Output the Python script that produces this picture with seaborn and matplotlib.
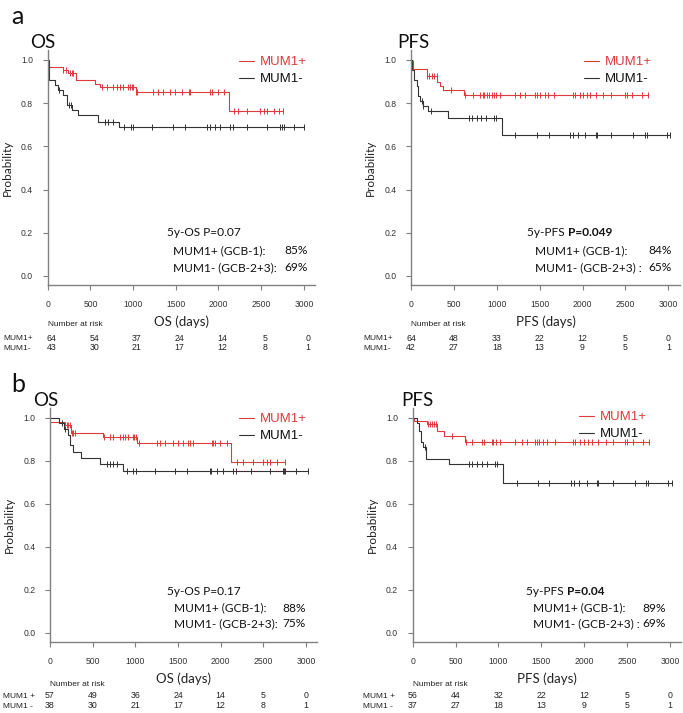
import numpy as np
import matplotlib
matplotlib.use("Agg")
import matplotlib.pyplot as plt
from matplotlib.lines import Line2D
import seaborn as sns

# ---------------- data ----------------
groups = ["MUM1+", "MUM1-"]
risk_times = [0, 500, 1000, 1500, 2000, 2500, 3000]

# (a) OS
a_os_pos_t = [0, 7, 176, 240, 330, 550, 610, 1030, 2120]
a_os_pos_s = [1.0, 0.969, 0.953, 0.938, 0.906, 0.890, 0.874, 0.852, 0.765]
a_os_pos_c = [184, 211, 262, 281, 301, 633, 691, 770, 816, 848, 879, 945, 965, 984,
              1004, 1035, 1043, 1238, 1297, 1355, 1434, 1492, 1570, 1660, 1668, 1902,
              1922, 2000, 2059, 2176, 2234, 2332, 2488, 2527, 2566, 2645, 2703, 2754]
a_os_neg_t = [0, 16, 86, 125, 184, 223, 281, 359, 586, 840]
a_os_neg_s = [1.0, 0.907, 0.884, 0.860, 0.837, 0.791, 0.767, 0.744, 0.714, 0.690]
a_os_neg_c = [137, 254, 270, 672, 711, 770, 895, 973, 996, 1219, 1465, 1609, 1871,
              1895, 1961, 2020, 2137, 2168, 2332, 2566, 2723, 2742, 2762, 2879, 2996]
a_os_risk_pos = [64, 54, 37, 24, 14, 5, 0]
a_os_risk_neg = [43, 30, 21, 17, 12, 8, 1]

# (a) PFS
a_pfs_pos_t = [0, 8, 20, 190, 300, 338, 375, 618]
a_pfs_pos_s = [1.0, 0.984, 0.960, 0.925, 0.900, 0.878, 0.860, 0.839]
a_pfs_pos_c = [19, 190, 214, 241, 268, 299, 466, 630, 727, 805, 836, 851, 882, 909,
               941, 968, 991, 1038, 1213, 1271, 1329, 1446, 1465, 1504, 1562, 1601,
               1667, 1893, 1912, 1970, 2009, 2048, 2087, 2157, 2242, 2328, 2495, 2522,
               2573, 2689, 2767]
a_pfs_neg_t = [0, 8, 35, 65, 86, 105, 135, 202, 427, 1065]
a_pfs_neg_s = [1.0, 0.952, 0.905, 0.880, 0.833, 0.810, 0.786, 0.762, 0.730, 0.653]
a_pfs_neg_c = [124, 145, 229, 680, 707, 766, 812, 871, 968, 987, 1213, 1473, 1605,
               1854, 1893, 1951, 2029, 2157, 2165, 2328, 2592, 2728, 2748, 2981, 3020]
a_pfs_risk_pos = [64, 48, 33, 22, 12, 5, 0]
a_pfs_risk_neg = [42, 27, 18, 13, 9, 5, 1]

# (b) OS
b_os_pos_t = [0, 5, 176, 242, 625, 1015, 2117]
b_os_pos_s = [1.0, 0.982, 0.965, 0.930, 0.912, 0.885, 0.795]
b_os_pos_c = [195, 215, 234, 254, 273, 293, 633, 703, 742, 820, 852, 879, 918, 969,
              984, 1008, 1047, 1250, 1289, 1348, 1445, 1504, 1563, 1613, 1641, 1680,
              1895, 1914, 1934, 1992, 2070, 2188, 2266, 2383, 2500, 2539, 2578, 2656, 2754]
b_os_neg_t = [0, 109, 160, 207, 234, 273, 363, 586, 852]
b_os_neg_s = [1.0, 0.974, 0.948, 0.920, 0.875, 0.840, 0.812, 0.785, 0.755]
b_os_neg_c = [137, 176, 672, 703, 742, 781, 906, 977, 1008, 1230, 1465, 1609, 1875,
              1887, 1953, 2023, 2148, 2180, 2352, 2578, 2727, 2742, 2754, 2883, 3027]
b_os_risk_pos = [57, 49, 36, 24, 14, 5, 0]
b_os_risk_neg = [38, 30, 21, 17, 12, 8, 1]

# (b) PFS
b_pfs_pos_t = [0, 15, 171, 280, 365, 610]
b_pfs_pos_s = [1.0, 0.985, 0.970, 0.940, 0.915, 0.888]
b_pfs_pos_c = [183, 202, 222, 249, 272, 455, 622, 688, 805, 832, 921, 941, 972, 1018,
               1193, 1271, 1329, 1426, 1454, 1477, 1524, 1563, 1660, 1873, 1893, 1951,
               1998, 2048, 2087, 2165, 2254, 2332, 2476, 2495, 2573, 2689, 2759]
b_pfs_neg_t = [0, 47, 74, 93, 124, 155, 428, 1057]
b_pfs_neg_s = [1.0, 0.977, 0.940, 0.890, 0.865, 0.810, 0.785, 0.695]
b_pfs_neg_c = [144, 661, 688, 754, 805, 863, 960, 979, 1213, 1465, 1593, 1846, 1885,
               1943, 2029, 2153, 2165, 2332, 2592, 2720, 2748, 2981, 3020]
b_pfs_risk_pos = [56, 44, 32, 22, 12, 5, 0]
b_pfs_risk_neg = [37, 27, 18, 13, 9, 5, 1]

# ---------------- style ----------------
W, H = 683, 713
RED = "#e03a3c"
BLACK = "#333333"
GREY = "#808080"
TXT = "Lato"
ARIAL = "Liberation Sans"
ANN = 8.6

sns.set_style("ticks")
plt.rcParams["font.family"] = [ARIAL, "DejaVu Sans"]

fig = plt.figure(figsize=(W / 100, H / 100), dpi=100)


def fx(x):
    return x / W


def fy(y):
    return 1 - y / H


def km_curve(ax, times, surv, cens, color):
    times = np.asarray(times, float)
    surv = np.asarray(surv, float)
    cens = np.asarray(cens, float)
    t_end = max(times.max(), cens.max())
    x = np.append(times, t_end)
    y = np.append(surv, surv[-1])
    sns.lineplot(x=x, y=y, drawstyle="steps-post", color=color, lw=0.8,
                 estimator=None, sort=False, ax=ax)
    idx = np.searchsorted(times, cens, side="right") - 1
    ax.plot(cens, surv[idx], ls="none", marker="|", ms=4.5, mew=0.7, color=color)


panels = [
    dict(rect=(47.7, 50, 315, 285), xmax=3130, title="OS", title_xy=(30, 43),
         letter="a", letter_xy=(11, 17),
         pos=(a_os_pos_t, a_os_pos_s, a_os_pos_c), neg=(a_os_neg_t, a_os_neg_s, a_os_neg_c),
         risk=(a_os_risk_pos, a_os_risk_neg), risk_y=(325, 338, 348), risk_lbl_x=3,
         risk_off=45, row_names=groups, xlabel="OS (days)", leg_xy=(239, 56),
         head=("5y-OS P=0.07", ""), head_x=1398, lbl_x=1468, pct_x=3040,
         ys=(0.199, 0.116, 0.037), lbls=("MUM1+ (GCB-1):", "MUM1- (GCB-2+3):"),
         pcts=("85%", "69%")),
    dict(rect=(411, 50, 680, 285), xmax=3136, title="PFS", title_xy=(397, 43),
         letter=None, letter_xy=None,
         pos=(a_pfs_pos_t, a_pfs_pos_s, a_pfs_pos_c), neg=(a_pfs_neg_t, a_pfs_neg_s, a_pfs_neg_c),
         risk=(a_pfs_risk_pos, a_pfs_risk_neg), risk_y=(325, 338, 348), risk_lbl_x=363,
         risk_off=0, row_names=groups, xlabel="PFS (days)", leg_xy=(584, 56),
         head=("5y-PFS ", "P=0.049"), head_x=1353, lbl_x=1446, pct_x=3043,
         ys=(0.199, 0.116, 0.037), lbls=("MUM1+ (GCB-1):", "MUM1- (GCB-2+3) :"),
         pcts=("84%", "65%")),
    dict(rect=(50, 408, 317, 642), xmax=3129, title="OS", title_xy=(33, 401),
         letter="b", letter_xy=(11, 384),
         pos=(b_os_pos_t, b_os_pos_s, b_os_pos_c), neg=(b_os_neg_t, b_os_neg_s, b_os_neg_c),
         risk=(b_os_risk_pos, b_os_risk_neg), risk_y=(684, 696, 706), risk_lbl_x=3,
         risk_off=0, row_names=["MUM1 +", "MUM1 -"], xlabel="OS (days)", leg_xy=(239, 413),
         head=("5y-OS P=0.17", ""), head_x=1371, lbl_x=1453, pct_x=3000,
         ys=(0.195, 0.116, 0.042), lbls=("MUM1+ (GCB-1):", "MUM1- (GCB-2+3):"),
         pcts=("88%", "75%")),
    dict(rect=(412.7, 408, 681, 642), xmax=3128, title="PFS", title_xy=(401, 401),
         letter=None, letter_xy=None,
         pos=(b_pfs_pos_t, b_pfs_pos_s, b_pfs_pos_c), neg=(b_pfs_neg_t, b_pfs_neg_s, b_pfs_neg_c),
         risk=(b_pfs_risk_pos, b_pfs_risk_neg), risk_y=(684, 696, 706), risk_lbl_x=363,
         risk_off=0, row_names=["MUM1 +", "MUM1 -"], xlabel="PFS (days)", leg_xy=(579, 411),
         head=("5y-PFS ", "P=0.04"), head_x=1320, lbl_x=1402, pct_x=2952,
         ys=(0.195, 0.116, 0.042), lbls=("MUM1+ (GCB-1):", "MUM1- (GCB-2+3) :"),
         pcts=("89%", "69%")),
]

for p in panels:
    l, t, r, b = p["rect"]
    ax = fig.add_axes([fx(l), fy(b), fx(r - l), (b - t) / H])

    km_curve(ax, *p["pos"], RED)
    km_curve(ax, *p["neg"], BLACK)

    ax.set_xlim(0, p["xmax"])
    ax.set_ylim(-0.042, 1.046)
    ax.set_xticks(risk_times)
    ax.set_yticks(np.arange(0, 1.01, 0.2))
    ax.set_yticklabels([f"{v:.1f}" for v in np.arange(0, 1.01, 0.2)])
    sns.despine(ax=ax)
    for s in ("left", "bottom"):
        ax.spines[s].set_color(GREY)
        ax.spines[s].set_linewidth(1.0)
    ax.tick_params(axis="both", length=3.5, width=0.8, color=GREY,
                   labelsize=6.2, labelcolor="#333333")
    ax.tick_params(axis="x", pad=7)
    ax.tick_params(axis="y", pad=7)
    ax.set_xlabel(p["xlabel"], fontfamily=TXT, fontsize=9.5, labelpad=5, color="#222222")
    ax.set_ylabel("Probability", fontfamily=TXT, fontsize=8.5, labelpad=6, color="#222222")

    # legend
    handles = [Line2D([], [], color=RED, lw=0.8), Line2D([], [], color=BLACK, lw=0.8)]
    ax.legend(handles, groups, loc="upper left", frameon=False, fontsize=9.5,
              labelcolor=[RED, "#111111"], handlelength=1.15, handletextpad=0.45,
              labelspacing=0.37, borderpad=0, borderaxespad=0,
              bbox_to_anchor=(fx(p["leg_xy"][0]), fy(p["leg_xy"][1])),
              bbox_transform=fig.transFigure)

    # 5-year summary text
    y0, y1, y2 = p["ys"]
    t1 = ax.text(p["head_x"], y0, p["head"][0], fontfamily=TXT, fontsize=ANN,
                 va="center", ha="left", color="#111111")
    if p["head"][1]:
        ax.annotate(p["head"][1], xy=(1, 0.5), xycoords=t1, va="center", ha="left",
                    fontfamily=TXT, fontsize=ANN, fontweight="bold", color="#111111")
    for yy, lbl, pct in zip((y1, y2), p["lbls"], p["pcts"]):
        ax.text(p["lbl_x"], yy, lbl, fontfamily=TXT, fontsize=ANN, va="center",
                ha="left", color="#111111")
        ax.text(p["pct_x"], yy, pct, fontfamily=TXT, fontsize=ANN, va="center",
                ha="right", color="#111111")

    # number at risk table
    hy, ry1, ry2 = p["risk_y"]
    ax.annotate("Number at risk", xy=(0, fy(hy)), xycoords=("data", "figure fraction"),
                ha="left", va="center", fontsize=6, color="#222222", annotation_clip=False)
    for ry, name, counts in zip((ry1, ry2), p["row_names"], p["risk"]):
        fig.text(fx(p["risk_lbl_x"]), fy(ry), name, ha="left", va="center",
                 fontsize=6, color="#222222")
        for tt, n in zip(risk_times, counts):
            ax.annotate(str(n), xy=(tt + p["risk_off"], fy(ry)),
                        xycoords=("data", "figure fraction"), ha="center", va="center",
                        fontsize=6.3, color="#222222", annotation_clip=False)

    # panel titles
    fig.text(fx(p["title_xy"][0]), fy(p["title_xy"][1]), p["title"], fontfamily=TXT,
             fontsize=13.5, ha="left", va="center", color="#111111")
    if p["letter"]:
        fig.text(fx(p["letter_xy"][0]), fy(p["letter_xy"][1]), p["letter"],
                 fontfamily=TXT, fontsize=18, ha="left", va="center", color="#111111")

fig.savefig("out.png", dpi=100)
